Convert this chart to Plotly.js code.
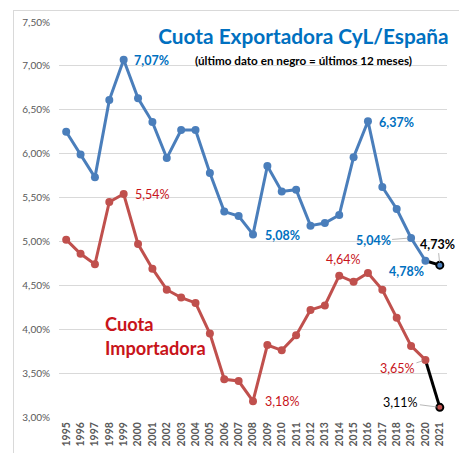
<!DOCTYPE html>
<html>
<head>
<meta charset="utf-8">
<script src="https://cdn.plot.ly/plotly-3.0.1.min.js"></script>
<style>
  html, body { margin: 0; padding: 0; background: #fff; overflow: hidden; }
  #chart { width: 459px; height: 453px; }
  #frame { position: absolute; left: 13px; top: 10px; width: 470px; height: 470px; border: 1px solid #d9d9d9; pointer-events: none; }
</style>
</head>
<body>
<div id="chart"></div>
<div id="frame"></div>
<script>
const years = ['1995','1996','1997','1998','1999','2000','2001','2002','2003','2004','2005','2006','2007','2008','2009','2010','2011','2012','2013','2014','2015','2016','2017','2018','2019','2020','2021'];
const exportShare = [6.25, 5.99, 5.73, 6.61, 7.07, 6.63, 6.36, 5.95, 6.27, 6.27, 5.78, 5.34, 5.29, 5.08, 5.86, 5.57, 5.59, 5.18, 5.21, 5.30, 5.96, 6.37, 5.62, 5.37, 5.04, 4.78, 4.73];
const importShare = [5.02, 4.86, 4.74, 5.45, 5.54, 4.97, 4.69, 4.45, 4.36, 4.30, 3.95, 3.43, 3.41, 3.18, 3.82, 3.76, 3.93, 4.22, 4.27, 4.61, 4.54, 4.64, 4.45, 4.13, 3.81, 3.65, 3.11];
const yTicks = [3.0, 3.5, 4.0, 4.5, 5.0, 5.5, 6.0, 6.5, 7.0, 7.5];

const BLUE = '#4a7ebb', RED = '#c0504d', BLUE_T = '#0070c0', RED_T = '#c8141a';
const n = years.length;
const fmt = v => v.toFixed(2).replace('.', ',') + '%';
const pct = a => a.map(v => v / 100);

function seriesTraces(vals, color) {
  return [
    { x: years.slice(n - 2), y: pct(vals.slice(n - 2)), mode: 'lines', line: { color: '#000', width: 3 }, hoverinfo: 'skip' },
    { x: years.slice(0, n - 1), y: pct(vals.slice(0, n - 1)), mode: 'lines+markers', line: { color: color, width: 3 }, marker: { color: color, size: 8 } },
    { x: years.slice(n - 1), y: pct(vals.slice(n - 1)), mode: 'markers', marker: { color: color, size: 7, line: { color: '#000', width: 2 } } }
  ];
}

const data = [...seriesTraces(exportShare, BLUE), ...seriesTraces(importShare, RED)];

const lblFont = (c, bold, s) => ({ family: 'Lato, sans-serif', size: s || 12.5, color: c, weight: bold ? 'bold' : 'normal' });
function lab(y, arr, color, bold, opts) {
  const i = years.indexOf(y);
  return Object.assign({ x: i, y: arr[i] / 100, xref: 'x', yref: 'y', text: fmt(arr[i]), showarrow: false, font: lblFont(color, bold) }, opts);
}

const grey = { arrowhead: 0, arrowwidth: 0.8, arrowcolor: '#a6a6a6', standoff: 3 };
const annotations = [
  lab('1999', exportShare, BLUE_T, true, { xanchor: 'left', xshift: 8, yshift: -1 }),
  lab('1999', importShare, RED_T, false, { xanchor: 'left', xshift: 9, yshift: 0 }),
  lab('2016', exportShare, BLUE_T, true, { xanchor: 'left', xshift: 9, yshift: -1 }),
  lab('2008', exportShare, BLUE_T, true, { xanchor: 'left', xshift: 10, yshift: -1 }),
  lab('2019', exportShare, BLUE_T, true, Object.assign({ showarrow: true, ax: -38, ay: 3 }, grey)),
  lab('2021', exportShare, '#000', true, Object.assign({ showarrow: true, ax: -2, ay: -21 }, grey)),
  lab('2020', exportShare, BLUE_T, true, { xshift: -19, yshift: -11 }),
  lab('2016', importShare, RED_T, false, { xshift: -24, yshift: 14 }),
  lab('2020', importShare, RED_T, false, Object.assign({ showarrow: true, ax: -28, ay: 9 }, grey)),
  lab('2021', importShare, '#000', false, Object.assign({ showarrow: true, ax: -39, ay: -5 }, grey)),
  lab('2008', importShare, RED_T, false, { xanchor: 'left', xshift: 10, yshift: 0 }),
  { xref: 'paper', yref: 'paper', x: 0.629, y: 0.904, xanchor: 'center', yanchor: 'middle', text: '(último dato en negro = últimos 12 meses)', showarrow: false, font: { family: 'Lato, sans-serif', size: 11.7, color: '#000', weight: 'bold' } },
  { xref: 'paper', yref: 'paper', x: 0.1134, y: 0.205, xanchor: 'left', yanchor: 'middle', align: 'left', text: 'Cuota<br>Importadora', showarrow: false, font: { family: 'Lato, sans-serif', size: 18.2, color: RED_T, weight: 'bold' } }
];

const layout = {
  width: 459, height: 453,
  margin: { l: 59, r: 12, t: 22, b: 36 },
  paper_bgcolor: '#fff', plot_bgcolor: '#fff',
  showlegend: false,
  separators: ',.',
  title: { text: 'Cuota Exportadora CyL/España', x: 0.661, xref: 'container', xanchor: 'center', y: 0.92, yref: 'container', yanchor: 'middle', font: { family: 'Lato, sans-serif', size: 20.8, color: BLUE_T, weight: 'bold' } },
  xaxis: { type: 'category', categoryorder: 'array', categoryarray: years, range: [-0.5, n - 0.5], showgrid: false, zeroline: false, showline: false, ticks: '', tickangle: -90, ticklabelstandoff: 2, tickfont: { family: 'Lato, sans-serif', size: 10.5, color: '#595959', weight: 'bold' } },
  yaxis: { range: [0.03, 0.075], tickvals: pct(yTicks), tickformat: '.2%', showgrid: true, gridcolor: '#d9d9d9', gridwidth: 1, zeroline: false, showline: false, ticks: '', ticklabelstandoff: 8, tickfont: { family: 'Lato, sans-serif', size: 10, color: '#595959' } },
  annotations: annotations
};

Plotly.newPlot('chart', data, layout, { staticPlot: true, displayModeBar: false });
</script>
</body>
</html>
